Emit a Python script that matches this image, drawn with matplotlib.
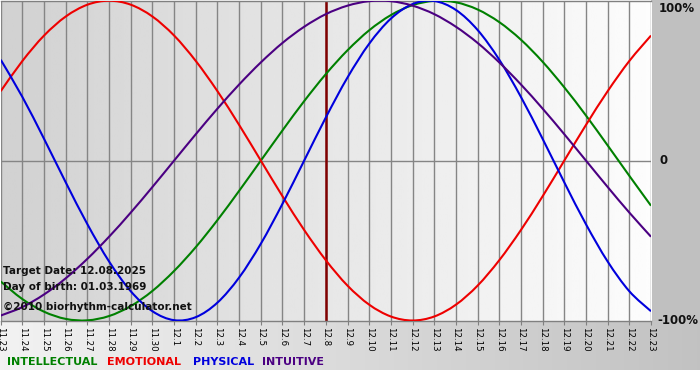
import numpy as np
import matplotlib
matplotlib.use("Agg")
import matplotlib.pyplot as plt
from matplotlib.path import Path
from matplotlib.patches import PathPatch

# ---- data (one per day) ----
dates = ["11.23", "11.24", "11.25", "11.26", "11.27", "11.28", "11.29", "11.30",
         "12.1", "12.2", "12.3", "12.4", "12.5", "12.6", "12.7", "12.8", "12.9",
         "12.10", "12.11", "12.12", "12.13", "12.14", "12.15", "12.16", "12.17",
         "12.18", "12.19", "12.20", "12.21", "12.22", "12.23"]
intellectual = [-0.756, -0.866, -0.945, -0.990, -0.999, -0.972, -0.910, -0.815,
                -0.690, -0.541, -0.372, -0.189, 0.000, 0.189, 0.372, 0.541, 0.690,
                0.815, 0.910, 0.972, 0.999, 0.990, 0.945, 0.866, 0.756, 0.618,
                0.458, 0.282, 0.095, -0.095, -0.282]
emotional = [0.434, 0.623, 0.782, 0.901, 0.975, 1.000, 0.975, 0.901, 0.782, 0.623,
             0.434, 0.223, 0.000, -0.223, -0.434, -0.623, -0.782, -0.901, -0.975,
             -1.000, -0.975, -0.901, -0.782, -0.623, -0.434, -0.223, 0.000, 0.223,
             0.434, 0.623, 0.782]
physical = [0.631, 0.398, 0.136, -0.136, -0.398, -0.631, -0.817, -0.942, -0.998,
            -0.979, -0.888, -0.731, -0.520, -0.270, 0.000, 0.270, 0.520, 0.731,
            0.888, 0.979, 0.998, 0.942, 0.817, 0.631, 0.398, 0.136, -0.136, -0.398,
            -0.631, -0.817, -0.942]
intuitive = [-0.969, -0.916, -0.837, -0.736, -0.614, -0.476, -0.325, -0.165, 0.000,
             0.165, 0.325, 0.476, 0.614, 0.736, 0.837, 0.916, 0.969, 0.997, 0.997,
             0.969, 0.916, 0.837, 0.736, 0.614, 0.476, 0.325, 0.165, 0.000, -0.165,
             -0.325, -0.476]
target_index = 15
y_labels = ["100%", "0", "-100%"]
legend_names = ["INTELLECTUAL", "EMOTIONAL", "PHYSICAL", "INTUITIVE"]
info_lines = ["Target Date: 12.08.2025", "Day of birth: 01.03.1969",
              "\u00a92010 biorhythm-calculator.net"]

# ---- style ----
colors = ["#008000", "#ee0000", "#0000dd", "#4b0082"]

W, H = 700, 380
fig = plt.figure(figsize=(W / 100, H / 100), dpi=100)

# background of the whole figure
bg = np.ones((H, W, 3))
xs = np.arange(W) / (W - 1)
band = (0.95 - (0.95 - 0.76) * xs)
bg[321:370, :, :] = band[None, :, None]
bg[:321, 651:, :] = 0.753
bgax = fig.add_axes([0, 0, 1, 1], zorder=-10)
bgax.imshow(bg, aspect="auto", extent=[0, 1, 0, 1], interpolation="nearest")
bgax.axis("off")

left = 0.7 / W
right = 651 / W
bottom = (H - 320.5) / H
top = (H - 0.7) / H
ax = fig.add_axes([left, bottom, right - left, top - bottom])
ax.set_facecolor("none")

grad = np.linspace(0.82, 0.99, 256)[None, :]
ax.imshow(grad, cmap="gray", vmin=0, vmax=1, aspect="auto",
          extent=[0, 1, 0, 1], transform=ax.transAxes, zorder=0)

x = np.arange(len(dates))
for xi in x:
    ax.axvline(xi, color="#858585", lw=1.0, zorder=1)
ax.axhline(0, color="#858585", lw=1.0, zorder=1)
ax.axvline(x[target_index], color="#800000", lw=1.8, zorder=2)


def smooth_path(xv, yv):
    """Cubic Bezier path through the daily values (Catmull-Rom tangents)."""
    p = np.column_stack([xv, yv]).astype(float)
    pe = np.vstack([p[0], p, p[-1]])
    verts = [p[0]]
    codes = [Path.MOVETO]
    for i in range(len(p) - 1):
        p0, p1, p2, p3 = pe[i], pe[i + 1], pe[i + 2], pe[i + 3]
        verts += [p1 + (p2 - p0) / 6, p2 - (p3 - p1) / 6, p2]
        codes += [Path.CURVE4] * 3
    return Path(verts, codes)


for vals, c in zip([intellectual, emotional, physical, intuitive], colors):
    ax.add_patch(PathPatch(smooth_path(x, vals), facecolor="none", edgecolor=c,
                           lw=1.5, zorder=3))

ax.set_xlim(0, len(dates) - 1)
ax.set_ylim(-1, 1)
ax.set_xticks(x)
ax.set_xticklabels(dates, rotation=270, fontsize=6.2, va="top", ha="center")
ax.tick_params(axis="x", length=3, color="#808080", pad=2)
ax.set_yticks([])
for s in ["left", "right"]:
    ax.spines[s].set_visible(False)
for s in ["top", "bottom"]:
    ax.spines[s].set_color("#808080")
    ax.spines[s].set_linewidth(1.0)

# y labels on the right
ypos_px = [1.5, 161, 321]
for lab, ypx in zip(y_labels, ypos_px):
    xpx = 657 if lab.startswith("-") else 659
    va = "top" if ypx < 5 else "center"
    fig.text(xpx / W, 1 - ypx / H, lab, fontsize=8.5, fontweight="bold",
             color="#111111", ha="left", va=va)

# info text
for txt, ypx in zip(info_lines, [271.5, 287, 307]):
    fig.text(3 / W, 1 - ypx / H, txt, fontsize=7.5, fontweight="bold",
             color="#111111", ha="left", va="center")

# legend text
for name, c, xpx in zip(legend_names, colors, [7, 107, 193, 262]):
    fig.text(xpx / W, 1 - 362 / H, name, fontsize=8, fontweight="bold",
             color=c, ha="left", va="center")

fig.savefig("out.png", dpi=100)
